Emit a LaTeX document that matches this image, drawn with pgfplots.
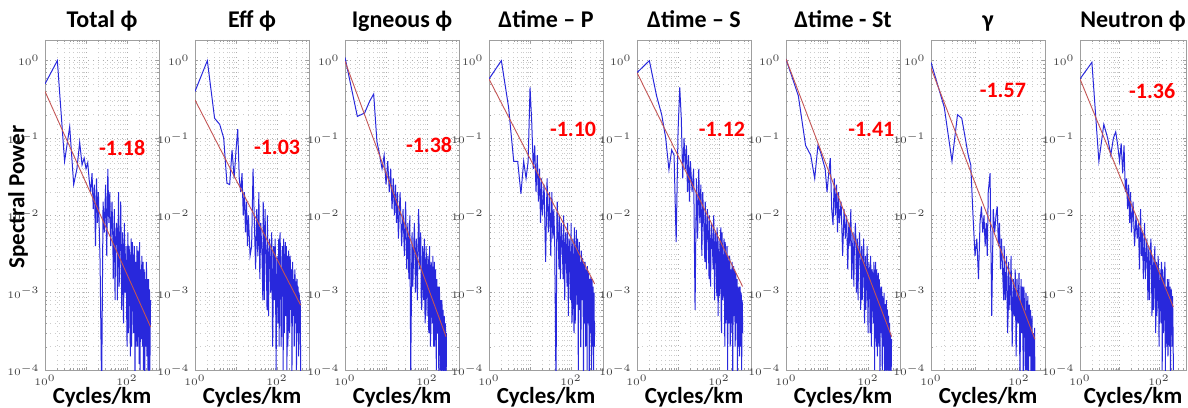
\documentclass[border=0pt]{standalone}
\usepackage{pgfplots}
\usepackage{pgfplotstable}
\pgfplotsset{compat=1.18}
\usepackage{fontspec}
\setmainfont{Carlito}

\definecolor{specblue}{RGB}{40,40,220}
\definecolor{fitred}{RGB}{195,85,85}

% spectra (nan = beyond the end of that series)
\pgfplotstableread{
x p1 p2 p3 p4 p5 p6 p7 p8
1 .5 .4 1.1 .58 .7 1.05 .95 .58
2 1 1 .19 1 1 .35 .25 .95
3 .05 .18 .21 .25 .35 .08 .05 .05
4 .14 .15 .3 .05 .2 .06 .2 .15
5 .025 .1 .37 .05 .1 .03 .18 .1
6 .04 .026 .09 .019 .039 .08 .1 .06
7 .088 .025 .06 .05 .07 .065 .06 .1
8 .045 .07 .04 .03 .06 .05 .045 .12
9 .055 .03 .06 .05 .0045 .04 .01 .08
10 .04 .07 .025 .45 .12 .02 .003 .05
11 .048 .13 .05 .16 .45 .035 .005 .085
12 .028 .03 .02 .04 .18 .055 .0015 .035
13 .02 .02 .04 .08 .03 .012 .008 .08
14 .035 .035 .012 .02 .1 .0075 .013 .02
15 .012 .01 .03 .06 .04 .03 .006 .03
16 .025 .02 .01 .015 .08 .01 .01 .012
17 .004 .006 .025 .04 .02 .025 .004 .025
18 .03 .015 .008 .008 .06 .006 .008 .008
19 .008 .004 .02 .03 .015 .02 .003 .02
20 .02 .01 .005 .01 .05 .008 .02 .006
22 .0025 .003 .02 .025 .02 .015 .035 .015
24 5e-5 .004 .004 .0025 .04 .003 .0005 .004
26 .015 .04 .012 .03 .0006 .012 .012 .01
28 .006 .008 .003 .006 .03 .005 .006 .005
30 .025 .002 .015 .02 .005 .01 .01 .008
32 .003 .012 .002 .003 .04 .002 .013 .002
34 .04 .003 .008 .02 .008 .008 .004 .012
36 .008 .02 .0015 .005 .025 .004 .008 .003
38 .02 .0015 .01 .012 .003 .012 .002 .006
40 .004 .008 .0001 .004 .02 .0015 .005 .0015
43 .015 .003 .006 5e-5 .006 .006 .0015 .008
45 .005 .0008 .0012 .009 .0025 .0012 .0008 .0015
46 .0015 .015 .002 .015 .015 .003 .004 .002
49 .012 .0008 .008 .004 .002 .008 .0008 .005
51 .0008 .012 .003 .002 .009 .004 .0015 .002
52 .003 .006 .001 .01 .012 .001 .003 .0008
55 .008 .002 .005 .0015 .004 .005 .0003 .004
57 .006 .0006 .0015 .006 .0015 .0008 .0006 .0008
58 .0008 .01 .0008 .008 .01 .002 .0025 .0015
62 .02 .0005 .012 .003 .0012 .006 .0006 .005
64 .0012 .003 .007 .0015 .005 .003 .0012 .003
66 .002 .005 .002 .01 .008 .0006 .003 .0005
70 .015 .001 .006 .0008 .003 .004 .0002 .003
72 .004 .0025 .0009 .004 .002 .0008 .0005 .0006
74 .0006 .006 .0006 .006 .01 .0015 .0015 .001
78 .006 2e-4 .004 .002 .0008 .005 .0005 .004
80 .0015 .0006 .002 .0012 .004 .002 .0009 .0015
82 .0004 .004 .0008 .008 .006 .0004 .002 .0003
86 .008 .0008 .005 .0005 .002 .003 1.5e-4 .0025
88 .0025 .003 .0007 .003 .0009 .0006 .0004 .0005
90 .001 .005 .0004 .005 .007 .001 .0015 .0008
95 .004 1e-4 .004 .0015 .0005 .004 .0004 .003
97 .0008 .0012 .0018 .0008 .003 .0015 .0008 .0012
100 2e-4 .003 .0005 .008 .005 .0003 .0018 .0002
102 .002 .0015 .0015 .002 .0009 .0015 .0006 .0008
105 .006 .0004 .003 .0004 .0015 .0025 8e-5 .002
108 .0003 .0025 .0012 .0006 .003 .0012 .0003 .001
110 .0007 .005 .0003 .005 .007 .0008 .001 .0006
112 .004 .0002 .0008 .0025 .0005 .0003 .0015 .0004
115 .003 .001 .004 .001 .0003 .003 .0003 .0025
118 .0008 .006 .001 .0003 .006 .0015 .0006 .0012
120 1.5e-4 .004 .0002 .007 .004 .0002 .0012 1e-4
123 .002 .0008 .0003 .004 .0008 .0006 .0002 .002
126 .005 2e-4 .0025 .0004 .001 .002 5e-5 .0015
129 .0002 .0015 .0018 .0008 .0025 .0012 .0012 .0003
132 .0006 .003 .0006 .003 .005 .0006 .0008 .0005
135 .0045 .004 .0004 .0065 .0012 .0004 .0004 .001
138 .003 .0007 .003 .0012 .0002 .0025 .0002 .002
141 .0012 .0001 .0015 .0007 .0045 .002 .0001 .0025
144 3e-4 .005 .0002 .005 .003 1e-4 .001 8e-5
147 .0005 .002 .0009 .0025 .0004 .0006 .0007 .0005
150 .004 .0003 .0025 1e-4 .0008 .0015 1e-4 .0012
153 .0025 .0007 .0002 .0012 .0018 .0025 .0003 .0009
156 8e-5 .003 .0004 .003 .004 .0005 .0006 .0004
159 .0009 .0045 .0018 .0045 .0006 .0002 .0009 .0002
162 .0025 .001 .002 .0006 .0001 .002 3e-5 .0015
165 .0002 .0005 .0005 .0009 .003 .0009 .0001 .0012
168 .0005 .004 1e-4 .0025 .0025 1.5e-4 .0005 1.5e-4
171 .0015 .0025 .0012 .0002 .0012 .0003 .0007 .0005
174 .004 1e-4 .0015 .0002 .0006 .0012 1.5e-4 .001
177 .0006 .0008 .0003 .0035 .0004 .0018 .0002 .0015
180 2e-4 .003 .0003 .003 .003 .0004 .0004 .0003
184 .0035 .0002 .0008 .0012 .0025 .0002 .0006 .0002
187 .003 .0006 .0012 .0008 .0002 .0015 5e-5 .0008
191 .0007 .0035 .0002 .0028 .0008 .0009 .00015 .0012
194 .0004 .0025 6e-5 .002 .002 6e-5 .0003 5e-5
198 .00012 .0012 .0012 .0005 .0015 .0004 .0005 .0004
201 .0045 3e-4 .001 6e-5 .0007 .001 1e-4 .0006
205 .002 .0004 .0004 .0015 .0003 .0012 8e-5 .0011
208 1e-4 .003 .0002 .0025 .0025 .0003 .00025 .0008
212 .0009 .0022 .0001 .0007 .0018 .0005 .0003 .0003
215 .002 .0008 .0008 .0004 8e-5 .0012 4e-5 .0002
219 .00025 .0006 .0006 .0025 .0005 .0002 .0001 .0009
222 .0006 .002 4e-5 .0015 .0015 1e-4 .0002 .0006
226 .0018 .0018 .0002 .0002 .0022 .0009 .00035 .0003
230 .003 8e-5 .0008 .0008 .0005 .0008 6e-5 .0001
234 .0005 .0003 .0005 .0018 .0008 .0003 nan nan
238 2e-4 .0025 .0001 .002 .002 .0002 nan nan
242 .0015 .0018 .0001 .0006 .0012 .0006 nan nan
246 .0025 .0005 .0006 1e-4 .0002 .001 nan nan
250 .0001 .0007 .0004 .0022 .0003 .0002 nan nan
254 .0004 .0015 3e-5 .0012 .0015 4e-5 nan nan
258 .0018 .0013 .00015 .0007 .0018 .0007 nan nan
262 .002 2e-4 .0005 .0004 .0004 .0007 nan nan
266 .0005 .0003 .0004 .0018 .0006 .0001 nan nan
270 6e-5 .002 1e-4 .0015 .001 .0002 nan nan
275 .0012 .0016 .0001 .0002 .0015 .0005 nan nan
279 .0015 .0004 .0004 5e-5 6e-5 .0008 nan nan
284 .0002 .0006 .0003 .0015 .0004 .0002 nan nan
288 .0003 .0012 5e-5 .001 .0012 8e-5 nan nan
293 .0018 .0014 .0001 .0005 .001 .0006 nan nan
297 .0025 1e-4 .0003 .0003 .0003 .0006 nan nan
302 .0004 .0004 nan .0016 .0002 .0001 nan nan
306 1.5e-4 .0015 nan .0012 .0009 .00015 nan nan
311 .0015 .0012 nan .0004 .0012 .0004 nan nan
315 .0012 .0005 nan 1e-4 1.5e-4 .0005 nan nan
320 .0001 .0003 nan .0012 .0004 .0001 nan nan
324 3e-4 .0012 nan .0015 .0012 5e-5 nan nan
329 .0012 .001 nan .0002 .001 .0004 nan nan
334 .0015 1.5e-4 nan 3e-4 .0002 .0004 nan nan
339 .0003 .0002 nan .001 .0003 .00015 nan nan
344 5e-5 .001 nan .0012 .001 1e-4 nan nan
349 .0011 .0009 nan .0003 .0009 .0003 nan nan
354 .001 4e-4 nan 1e-4 1e-4 .0003 nan nan
359 .0001 .0003 nan .0009 .0002 .0001 nan nan
364 2e-4 .0008 nan .001 .0008 6e-5 nan nan
370 .0006 .0007 nan .0002 .0007 .0002 nan nan
375 8e-4 6e-5 nan .0004 .0003 2.5e-4 nan nan
}\spectra

\pgfplotsset{
  specaxis/.style={
    scale only axis, height=165pt,
    xmin=1, ymin=1e-4, ymax=1.85,
    xtick={1,10,100}, xticklabels={$10^{0}$,,$10^{2}$},
    ytick={1e-4,1e-3,1e-2,1e-1,1},
    yticklabels={$10^{-4}$,$10^{-3}$,$10^{-2}$,$10^{-1}$,$10^{0}$},
    minor xtick={2,3,4,5,6,7,8,9,20,30,40,50,60,70,80,90,200,300,400,500,600,700,800,900},
    minor ytick={2e-4,3e-4,4e-4,5e-4,6e-4,7e-4,8e-4,9e-4,2e-3,3e-3,4e-3,5e-3,6e-3,7e-3,8e-3,9e-3,2e-2,3e-2,4e-2,5e-2,6e-2,7e-2,8e-2,9e-2,0.2,0.3,0.4,0.5,0.6,0.7,0.8,0.9},
    grid=both,
    major grid style={gray!65, dotted, line width=0.3pt},
    minor grid style={gray!40, dotted, line width=0.25pt},
    axis line style={gray!75, line width=0.4pt},
    tick style={gray!75},
    major tick length=1.5pt, minor tick length=0.8pt,
    tick label style={font=\fontsize{3.7}{4}\selectfont, text=black!75},
    xticklabel style={yshift=1pt},
    yticklabel style={xshift=0.8pt},
    title style={at={(0.5,1)}, anchor=base,
      font=\fontsize{12}{14}\selectfont\bfseries},
    xlabel={Cycles/km},
    xlabel style={at={(axis description cs:0.5,0)}, anchor=base, yshift=-16.5pt,
      font=\fontsize{11.5}{13}\selectfont\bfseries},
  },
  specline/.style={no markers, color=specblue, line width=0.5pt},
  fitline/.style={no markers, color=fitred, line width=0.45pt},
}
\tikzset{slope/.style={text=red, font=\fontsize{11}{13}\selectfont\bfseries}}

\begin{document}
\begin{tikzpicture}
\useasboundingbox (0pt,0pt) rectangle (594pt,203.5pt);
\node[rotate=90, font=\fontsize{11.5}{13}\selectfont\bfseries] at (9pt,105pt) {Spectral Power};

\begin{loglogaxis}[specaxis, anchor=south west, at={(22.5pt,18.5pt)}, width=57pt, xmax=600, title={Total ϕ}]
\addplot[specline] table[x=x, y=p1] {\spectra};
\addplot[fitline] coordinates {(1,0.4) (375,3.6e-4)};
\node[slope] at (axis cs:76,0.075) {-1.18};
\end{loglogaxis}

\begin{loglogaxis}[specaxis, anchor=south west, at={(97.5pt,18.5pt)}, width=57pt, xmax=600, title={Eff ϕ}]
\addplot[specline] table[x=x, y=p2] {\spectra};
\addplot[fitline] coordinates {(1,0.31) (375,6.9e-4)};
\node[slope] at (axis cs:100,0.076) {-1.03};
\end{loglogaxis}

\begin{loglogaxis}[specaxis, anchor=south west, at={(172.5pt,18.5pt)}, width=57pt, xmax=600, title={Igneous ϕ}]
\addplot[specline] table[x=x, y=p3] {\spectra};
\addplot[fitline] coordinates {(1,0.98) (290,2.7e-4)};
\node[slope] at (axis cs:112,0.08) {-1.38};
\end{loglogaxis}

\begin{loglogaxis}[specaxis, anchor=south west, at={(244.5pt,18.5pt)}, width=57pt, xmax=600, title={Δtime – P}]
\addplot[specline] table[x=x, y=p4] {\spectra};
\addplot[fitline] coordinates {(1,0.58) (375,1.3e-3)};
\node[slope] at (axis cs:112,0.13) {-1.10};
\end{loglogaxis}

\begin{loglogaxis}[specaxis, anchor=south west, at={(318.5pt,18.5pt)}, width=57pt, xmax=600, title={Δtime – S}]
\addplot[specline] table[x=x, y=p5] {\spectra};
\addplot[fitline] coordinates {(1,0.7) (375,1.2e-3)};
\node[slope] at (axis cs:118,0.13) {-1.12};
\end{loglogaxis}

\begin{loglogaxis}[specaxis, anchor=south west, at={(393pt,18.5pt)}, width=57pt, xmax=600, title={Δtime - St}]
\addplot[specline] table[x=x, y=p6] {\spectra};
\addplot[fitline] coordinates {(1,1.05) (375,2.7e-4)};
\node[slope] at (axis cs:120,0.13) {-1.41};
\end{loglogaxis}

\begin{loglogaxis}[specaxis, anchor=south west, at={(465.5pt,18.5pt)}, width=57pt, xmax=390, title={γ}]
\addplot[specline] table[x=x, y=p7] {\spectra};
\addplot[fitline] coordinates {(1,0.8) (230,2.5e-4)};
\node[slope] at (axis cs:43,0.41) {-1.57};
\end{loglogaxis}

\begin{loglogaxis}[specaxis, anchor=south west, at={(540pt,18.5pt)}, width=53pt, xmax=480, title={Neutron ϕ}]
\addplot[specline] table[x=x, y=p8] {\spectra};
\addplot[fitline] coordinates {(1,0.58) (230,6.5e-4)};
\node[slope] at (axis cs:67,0.41) {-1.36};
\end{loglogaxis}
\end{tikzpicture}
\end{document}
